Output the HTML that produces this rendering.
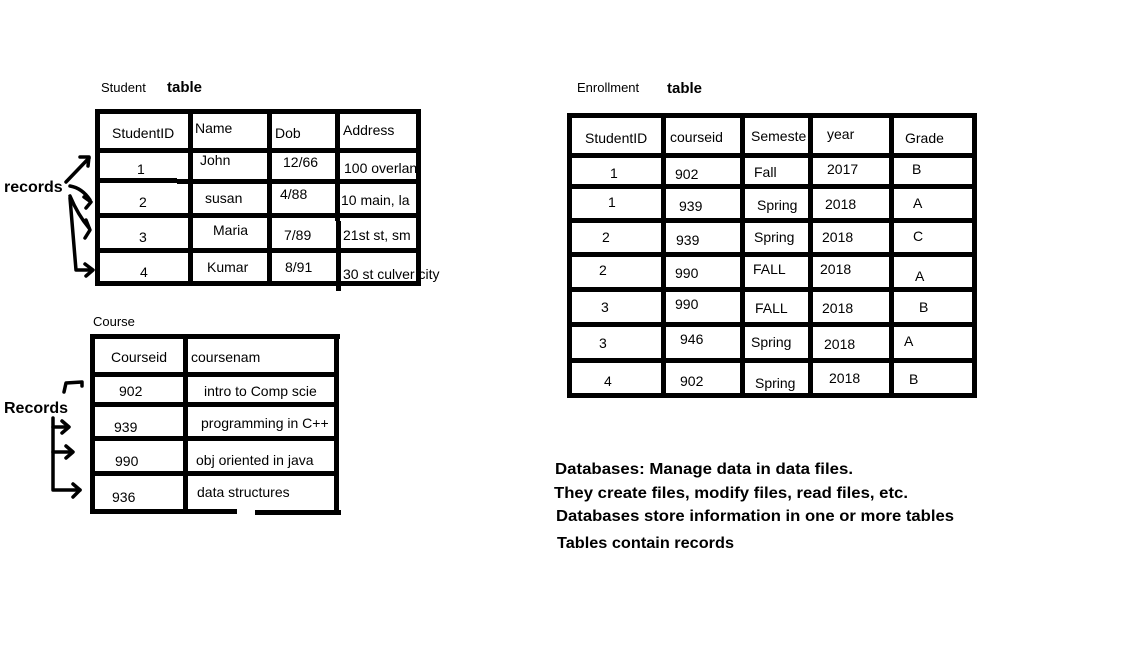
<!DOCTYPE html>
<html><head><meta charset="utf-8"><style>
html,body{margin:0;padding:0;background:#fff;}
svg{display:block;}
text{font-family:"Liberation Sans",sans-serif;font-size:14px;fill:#000;}
.s{font-size:13px;}
.b{font-weight:bold;font-size:15px;}
.n{font-weight:bold;font-size:16px;}
.bl{font-weight:bold;font-size:16px;}
</style></head><body>
<svg width="1133" height="653" viewBox="0 0 1133 653" xmlns="http://www.w3.org/2000/svg">
<rect width="1133" height="653" fill="#fff"/>
<g fill="#000">
<rect x="95" y="109" width="326" height="5"/>
<rect x="95" y="281" width="326" height="5"/>
<rect x="95" y="109" width="5" height="177"/>
<rect x="416" y="109" width="5" height="177"/>
<rect x="188" y="109" width="5" height="177"/>
<rect x="267" y="109" width="5" height="177"/>
<rect x="335" y="109" width="5" height="112"/>
<rect x="336" y="221" width="5" height="70"/>
<rect x="95" y="148" width="326" height="5"/>
<rect x="95" y="178" width="82" height="5"/>
<rect x="177" y="179" width="160" height="5"/>
<rect x="337" y="179" width="80" height="5"/>
<rect x="95" y="213" width="326" height="5"/>
<rect x="95" y="248" width="326" height="5"/>
<rect x="90" y="334" width="250" height="5"/>
<rect x="90" y="509" width="147" height="5"/>
<rect x="255" y="510" width="86" height="5"/>
<rect x="90" y="334" width="5" height="180"/>
<rect x="183" y="334" width="5" height="180"/>
<rect x="334" y="334" width="5" height="180"/>
<rect x="90" y="372" width="249" height="5"/>
<rect x="90" y="402" width="249" height="5"/>
<rect x="90" y="436" width="249" height="5"/>
<rect x="90" y="471" width="249" height="5"/>
<rect x="567" y="113" width="410" height="5"/>
<rect x="567" y="393" width="410" height="5"/>
<rect x="567" y="113" width="5" height="285"/>
<rect x="661" y="113" width="5" height="285"/>
<rect x="740" y="113" width="5" height="285"/>
<rect x="808" y="113" width="5" height="285"/>
<rect x="889" y="113" width="5" height="285"/>
<rect x="972" y="113" width="5" height="285"/>
<rect x="567" y="153" width="410" height="5"/>
<rect x="567" y="184" width="410" height="5"/>
<rect x="567" y="218" width="410" height="5"/>
<rect x="567" y="252" width="410" height="5"/>
<rect x="567" y="287" width="410" height="5"/>
<rect x="567" y="322" width="410" height="5"/>
<rect x="567" y="358" width="410" height="5"/>
</g>
<g fill="none" stroke="#000" stroke-width="3.5" stroke-linejoin="round" stroke-linecap="round">
<path d="M66 182 L89 158"/><path d="M80 157 L89 157 L88 166"/>
<path d="M70 186 Q82 188 90 200"/><path d="M84 197 L91 202 L86 208"/>
<path d="M70 196 Q78 215 89 228"/><path d="M86 220 L90 230 L85 238"/>
<path d="M70 198 L76 270 L92 270"/><path d="M85 264 L93 270 L86 276"/>
<path d="M64 392 L66 383 L82 382 L82 386"/>
<path d="M53 418 L53 490 L80 490"/><path d="M73 484 L80 490 L73 497"/>
<path d="M53 427 L68 427"/><path d="M62 421 L69 427 L62 433"/>
<path d="M53 452 L72 452"/><path d="M66 446 L73 452 L66 458"/>
</g>
<text x="101" y="92" class="s">Student</text>
<text x="167" y="92" class="b">table</text>
<text x="4" y="192" class="bl">records</text>
<text x="112" y="138">StudentID</text>
<text x="195" y="133">Name</text>
<text x="275" y="138">Dob</text>
<text x="343" y="135">Address</text>
<text x="137" y="174">1</text>
<text x="200" y="165">John</text>
<text x="283" y="167">12/66</text>
<text x="344" y="173">100 overlan</text>
<text x="139" y="207">2</text>
<text x="205" y="203">susan</text>
<text x="280" y="199">4/88</text>
<text x="341" y="205">10 main, la</text>
<text x="139" y="242">3</text>
<text x="213" y="235">Maria</text>
<text x="284" y="240">7/89</text>
<text x="343" y="240">21st st, sm</text>
<text x="140" y="277">4</text>
<text x="207" y="272">Kumar</text>
<text x="285" y="272">8/91</text>
<text x="343" y="279">30 st culver city</text>
<text x="93" y="326" class="s">Course</text>
<text x="4" y="413" class="bl">Records</text>
<text x="111" y="362">Courseid</text>
<text x="191" y="362">coursenam</text>
<text x="119" y="396">902</text>
<text x="204" y="396">intro to Comp scie</text>
<text x="114" y="432">939</text>
<text x="201" y="428">programming in C++</text>
<text x="115" y="466">990</text>
<text x="196" y="465">obj oriented in java</text>
<text x="112" y="502">936</text>
<text x="197" y="497">data structures</text>
<text x="577" y="92" class="s">Enrollment</text>
<text x="667" y="93" class="b">table</text>
<text x="585" y="143">StudentID</text>
<text x="670" y="142">courseid</text>
<text x="751" y="141">Semeste</text>
<text x="827" y="139">year</text>
<text x="905" y="143">Grade</text>
<text x="610" y="178">1</text><text x="675" y="179">902</text><text x="754" y="177">Fall</text><text x="827" y="174">2017</text><text x="912" y="174">B</text>
<text x="608" y="207">1</text><text x="679" y="211">939</text><text x="757" y="210">Spring</text><text x="825" y="209">2018</text><text x="913" y="208">A</text>
<text x="602" y="242">2</text><text x="676" y="245">939</text><text x="754" y="242">Spring</text><text x="822" y="242">2018</text><text x="913" y="241">C</text>
<text x="599" y="275">2</text><text x="675" y="278">990</text><text x="753" y="274">FALL</text><text x="820" y="274">2018</text><text x="915" y="281">A</text>
<text x="601" y="312">3</text><text x="675" y="309">990</text><text x="755" y="313">FALL</text><text x="822" y="313">2018</text><text x="919" y="312">B</text>
<text x="599" y="348">3</text><text x="680" y="344">946</text><text x="751" y="347">Spring</text><text x="824" y="349">2018</text><text x="904" y="346">A</text>
<text x="604" y="386">4</text><text x="680" y="386">902</text><text x="755" y="388">Spring</text><text x="829" y="383">2018</text><text x="909" y="384">B</text>
<text x="555" y="474" class="n" textLength="298" lengthAdjust="spacingAndGlyphs">Databases:  Manage data in data files.</text>
<text x="554" y="498" class="n" textLength="354" lengthAdjust="spacingAndGlyphs">They create files, modify files, read files, etc.</text>
<text x="556" y="521" class="n" textLength="398" lengthAdjust="spacingAndGlyphs">Databases store information in one or more tables</text>
<text x="557" y="548" class="n" textLength="177" lengthAdjust="spacingAndGlyphs">Tables contain records</text>
</svg>
</body></html>
